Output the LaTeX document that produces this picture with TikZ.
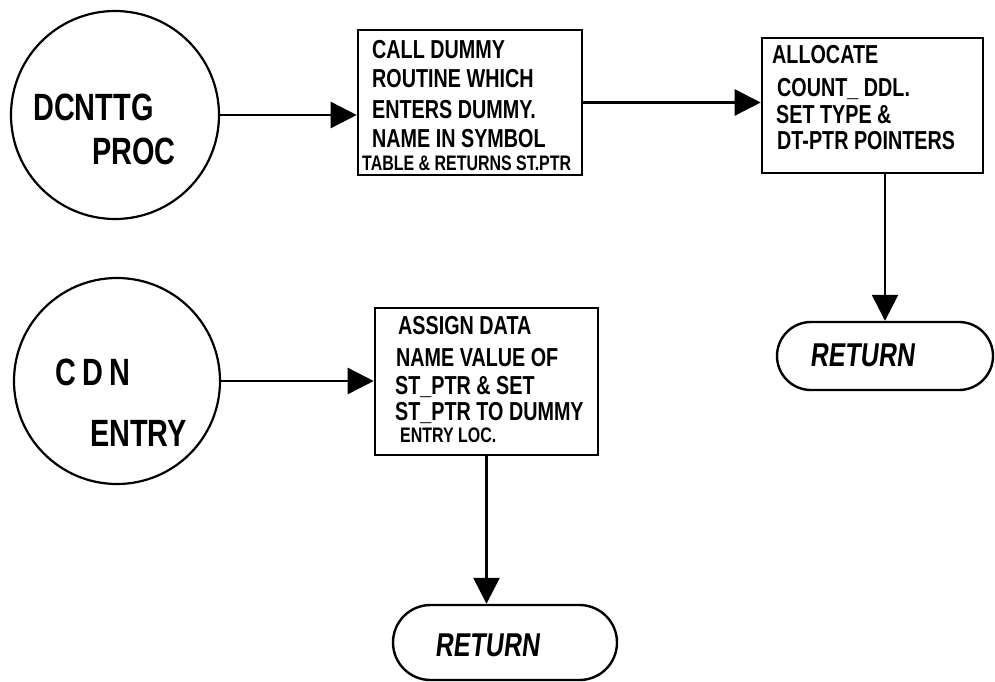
\documentclass[tikz,border=0pt]{standalone}
\usepackage{fontspec}
\usetikzlibrary{arrows.meta,shapes.misc}
\newfontfamily\handb[FakeStretch=0.76]{Liberation Sans Bold}
\newfontfamily\handc[FakeStretch=0.76]{Liberation Sans Bold}
\newfontfamily\handr[FakeStretch=0.76,FakeSlant=0.12]{Liberation Sans Bold}
\begin{document}
\begin{tikzpicture}[x=1pt,y=-1pt,
  boxst/.style={draw,line width=2.6pt,rectangle,inner sep=0pt},
  circst/.style={draw,line width=2.2pt,circle,inner sep=0pt},
  retst/.style={draw,line width=2.4pt,rounded rectangle,inner sep=0pt},
  txt/.style={anchor=base west,inner sep=0pt,font=\handb\fontsize{26}{30}\selectfont},
  txts/.style={anchor=base west,inner sep=0pt,font=\handb\fontsize{21}{24}\selectfont},
  ctxt/.style={anchor=base west,inner sep=0pt,font=\handc\fontsize{38}{42}\selectfont},
  rtxt/.style={anchor=center,inner sep=0pt,font=\handr\fontsize{33}{36}\selectfont},
  arr/.style={line width=2.6pt,-{Triangle[length=26pt,width=26pt]}}]
\useasboundingbox (0,0) rectangle (995,682);
% circles
\node[circst,minimum size=208pt] (c1) at (115,115) {};
\node[ctxt] (c1a) at (33,120.5) {DCNTTG};
\node[ctxt] (c1b) at (92,164) {PROC};
\node[circst,minimum size=206pt] (c2) at (117,381) {};
\node[ctxt] (c2a) at (55,385) {C\,D\,N};
\node[ctxt] (c2b) at (90,446) {ENTRY};
% boxes
\node[boxst,minimum width=224pt,minimum height=145pt] (b1) at (470,102.5) {};
\node[txt] (b1a) at (372,59) {CALL DUMMY};
\node[txt] (b1b) at (372,88) {ROUTINE WHICH};
\node[txt] (b1c) at (372,118) {ENTERS DUMMY.};
\node[txt] (b1d) at (372,147) {NAME IN SYMBOL};
\node[txts] (b1e) at (362,170) {TABLE \& RETURNS ST.PTR};
\node[boxst,minimum width=221pt,minimum height=135pt] (b2) at (872.5,105.5) {};
\node[txt] (b2a) at (772,64) {ALLOCATE};
\node[txt] (b2b) at (777,97) {COUNT\_ DDL.};
\node[txt] (b2c) at (776,124) {SET TYPE \&};
\node[txt] (b2d) at (777,149) {DT-PTR POINTERS};
\node[boxst,minimum width=223pt,minimum height=147pt] (b3) at (486.5,381.5) {};
\node[txt] (b3a) at (398,334) {ASSIGN DATA};
\node[txt] (b3b) at (396,366) {NAME VALUE OF};
\node[txt] (b3c) at (395,394) {ST\_PTR \& SET};
\node[txt] (b3d) at (395,420) {ST\_PTR TO DUMMY};
\node[txts] (b3e) at (400,442) {ENTRY LOC.};
% returns
\node[retst,minimum width=216pt,minimum height=68pt] (r2) at (885,356) {};
\node[rtxt] (r2t) at (862,355) {RETURN};
\node[retst,minimum width=224pt,minimum height=75pt] (r1) at (505,642.5) {};
\node[rtxt] (r1t) at (487,645) {RETURN};
% connectors
\draw[arr] (c1.east) -- (c1.east -| b1.west);
\draw[arr] (b1.east) -- (b1.east -| b2.west);
\draw[arr] (c2.east) -- (c2.east -| b3.west);
\draw[arr] (r2.north |- b2.south) -- (r2.north);
\draw[arr] (b3.south) -- (b3.south |- r1.north);
\end{tikzpicture}
\end{document}
